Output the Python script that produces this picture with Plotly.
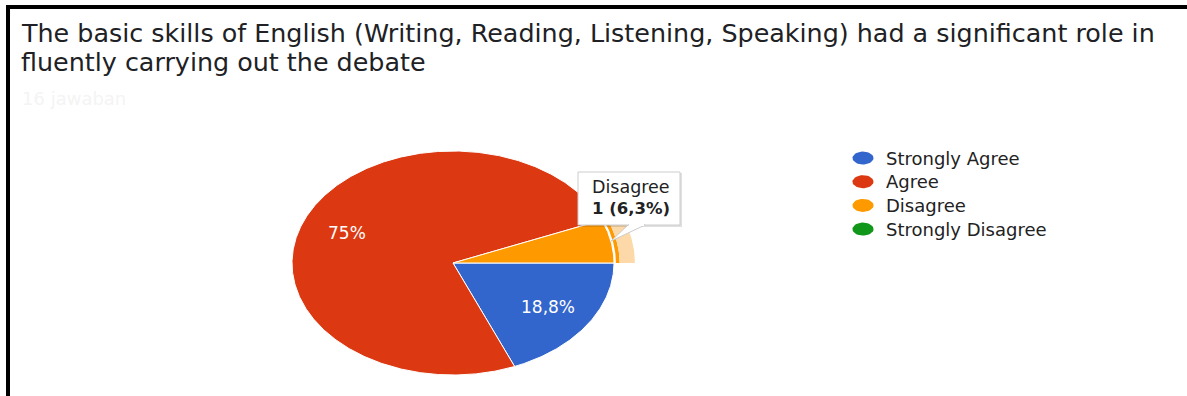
import numpy as np
import plotly.graph_objects as go
from decimal import Decimal, ROUND_HALF_UP

# Survey responses
question_lines = [
    "The basic skills of English (Writing, Reading, Listening, Speaking) had a significant role in",
    "fluently carrying out the debate",
]
categories = ["Strongly Agree", "Agree", "Disagree", "Strongly Disagree"]
counts = [3, 12, 1, 0]
colors = ["#3366cc", "#dc3912", "#ff9900", "#109618"]
highlighted = "Disagree"

total = sum(counts)

# Canvas geometry (pixels)
W, H = 1187, 396
CX, CY = 453, 263          # pie centre
RX, RY = 161, 112          # pie radii (the pie is drawn as an ellipse)


def px2x(p):
    return (p - CX) / RX


def py2y(p):
    return (CY - p) / RY


def pct_text(c):
    d = (Decimal(c) * 100 / Decimal(total)).quantize(Decimal("0.1"), ROUND_HALF_UP)
    s = f"{d}"
    if s.endswith(".0"):
        s = s[:-2]
    return s.replace(".", ",") + "%"


FONT = "DejaVu Sans"
fig = go.Figure()

# Pie slices, clockwise from 3 o'clock
cum = 0
slice_angles = {}
for cat, c, col in zip(categories, counts, colors):
    a0 = -360 * cum / total
    cum += c
    a1 = -360 * cum / total
    slice_angles[cat] = (a0, a1)
    if c == 0:
        continue
    n = max(8, int(abs(a1 - a0) * 2))
    th = np.radians(np.linspace(a0, a1, n))
    xs = np.concatenate([[0], np.cos(th), [0]])
    ys = np.concatenate([[0], np.sin(th), [0]])
    fig.add_trace(go.Scatter(
        x=xs, y=ys, mode="lines", fill="toself", fillcolor=col,
        line=dict(color="white", width=1), hoverinfo="skip", showlegend=False,
    ))

# Hover ring around the highlighted slice
hi = categories.index(highlighted)
a0, a1 = slice_angles[highlighted]
th = np.radians(np.linspace(a0, a1, 40))
for r_in, r_out, col in [(1.012, 1.035, colors[hi]), (1.035, 1.13, "#fdd9a9")]:
    xs = np.concatenate([r_in * np.cos(th), r_out * np.cos(th[::-1])])
    ys = np.concatenate([r_in * np.sin(th), r_out * np.sin(th[::-1])])
    fig.add_trace(go.Scatter(
        x=np.append(xs, xs[0]), y=np.append(ys, ys[0]), mode="lines",
        fill="toself", fillcolor=col, line=dict(width=0),
        hoverinfo="skip", showlegend=False,
    ))

annotations = []

# Percentage labels inside larger slices
for cat, c in zip(categories, counts):
    if c / total < 0.1:
        continue
    a0, a1 = slice_angles[cat]
    mid = np.radians((a0 + a1) / 2)
    annotations.append(dict(
        x=0.71 * np.cos(mid), y=0.71 * np.sin(mid), text=pct_text(c),
        showarrow=False, font=dict(family=FONT, size=17, color="white"),
        xanchor="center", yanchor="middle",
    ))

# Legend with elliptical swatches
leg_x, leg_text_x = 863, 884
for i, (cat, col) in enumerate(zip(categories, colors)):
    yc = 158 + i * 23.7
    t = np.linspace(0, 2 * np.pi, 40)
    fig.add_trace(go.Scatter(
        x=px2x(leg_x) + 10.5 / RX * np.cos(t), y=py2y(yc) + 6.5 / RY * np.sin(t),
        mode="lines", fill="toself", fillcolor=col, line=dict(width=0, color=col),
        hoverinfo="skip", showlegend=False,
    ))
    annotations.append(dict(
        x=px2x(leg_text_x), y=py2y(yc), text=cat, showarrow=False,
        font=dict(family=FONT, size=18, color="#222222"),
        xanchor="left", yanchor="middle",
    ))

# Title and response count
for j, line in enumerate(question_lines):
    annotations.append(dict(
        x=px2x(19), y=py2y(32.5 + j * 29.5), text=line, showarrow=False,
        font=dict(family=FONT, size=25.4, color="#202124"),
        xanchor="left", yanchor="middle",
    ))
annotations.append(dict(
    x=px2x(20), y=py2y(98), text=f"{total} jawaban", showarrow=False,
    font=dict(family=FONT, size=18, color="#f4f4f4"),
    xanchor="left", yanchor="middle",
))

# Tooltip for the highlighted slice
mid = np.radians(sum(slice_angles[highlighted]) / 2)
tip_x, tip_y = np.cos(mid), np.sin(mid)
bx0, bx1, by0, by1 = 578, 680, 172, 225
shapes = [
    dict(type="rect", xref="x", yref="y", x0=px2x(bx0 + 1), x1=px2x(bx1 + 2),
         y0=py2y(by0 + 1), y1=py2y(by1 + 2), fillcolor="rgba(0,0,0,0.12)",
         line=dict(width=0), layer="above"),
    dict(type="rect", xref="x", yref="y", x0=px2x(bx0), x1=px2x(bx1),
         y0=py2y(by0), y1=py2y(by1), fillcolor="white",
         line=dict(color="#cccccc", width=1), layer="above"),
    dict(type="path", xref="x", yref="y",
         path=f"M {px2x(628)} {py2y(by1)} L {tip_x} {tip_y} L {px2x(645)} {py2y(by1)} Z",
         fillcolor="white", line=dict(color="#cccccc", width=1), layer="above"),
    dict(type="line", xref="x", yref="y", x0=px2x(629), x1=px2x(644),
         y0=py2y(by1), y1=py2y(by1), line=dict(color="white", width=2), layer="above"),
    # frame lines
    dict(type="rect", xref="paper", yref="paper", x0=6 / W, x1=1, y0=1 - 9 / H, y1=1 - 5 / H,
         fillcolor="black", line=dict(width=0), layer="above"),
    dict(type="rect", xref="paper", yref="paper", x0=6 / W, x1=10 / W, y0=0, y1=1 - 5 / H,
         fillcolor="black", line=dict(width=0), layer="above"),
]
annotations.append(dict(
    x=px2x(590), y=py2y(187), text=highlighted, showarrow=False,
    font=dict(family=FONT, size=17.5, color="#222222"), xanchor="left", yanchor="middle",
))
annotations.append(dict(
    x=px2x(590), y=py2y(208),
    text=f"<b>{counts[hi]} ({pct_text(counts[hi])})</b>", showarrow=False,
    font=dict(family=FONT, size=16.5, color="#222222"), xanchor="left", yanchor="middle",
))

fig.update_layout(
    width=W, height=H, margin=dict(l=0, r=0, t=0, b=0),
    paper_bgcolor="white", plot_bgcolor="white",
    xaxis=dict(range=[px2x(0), px2x(W)], visible=False, fixedrange=True),
    yaxis=dict(range=[py2y(H), py2y(0)], visible=False, fixedrange=True),
    annotations=annotations, shapes=shapes, showlegend=False,
)

fig.write_html("out.html")
